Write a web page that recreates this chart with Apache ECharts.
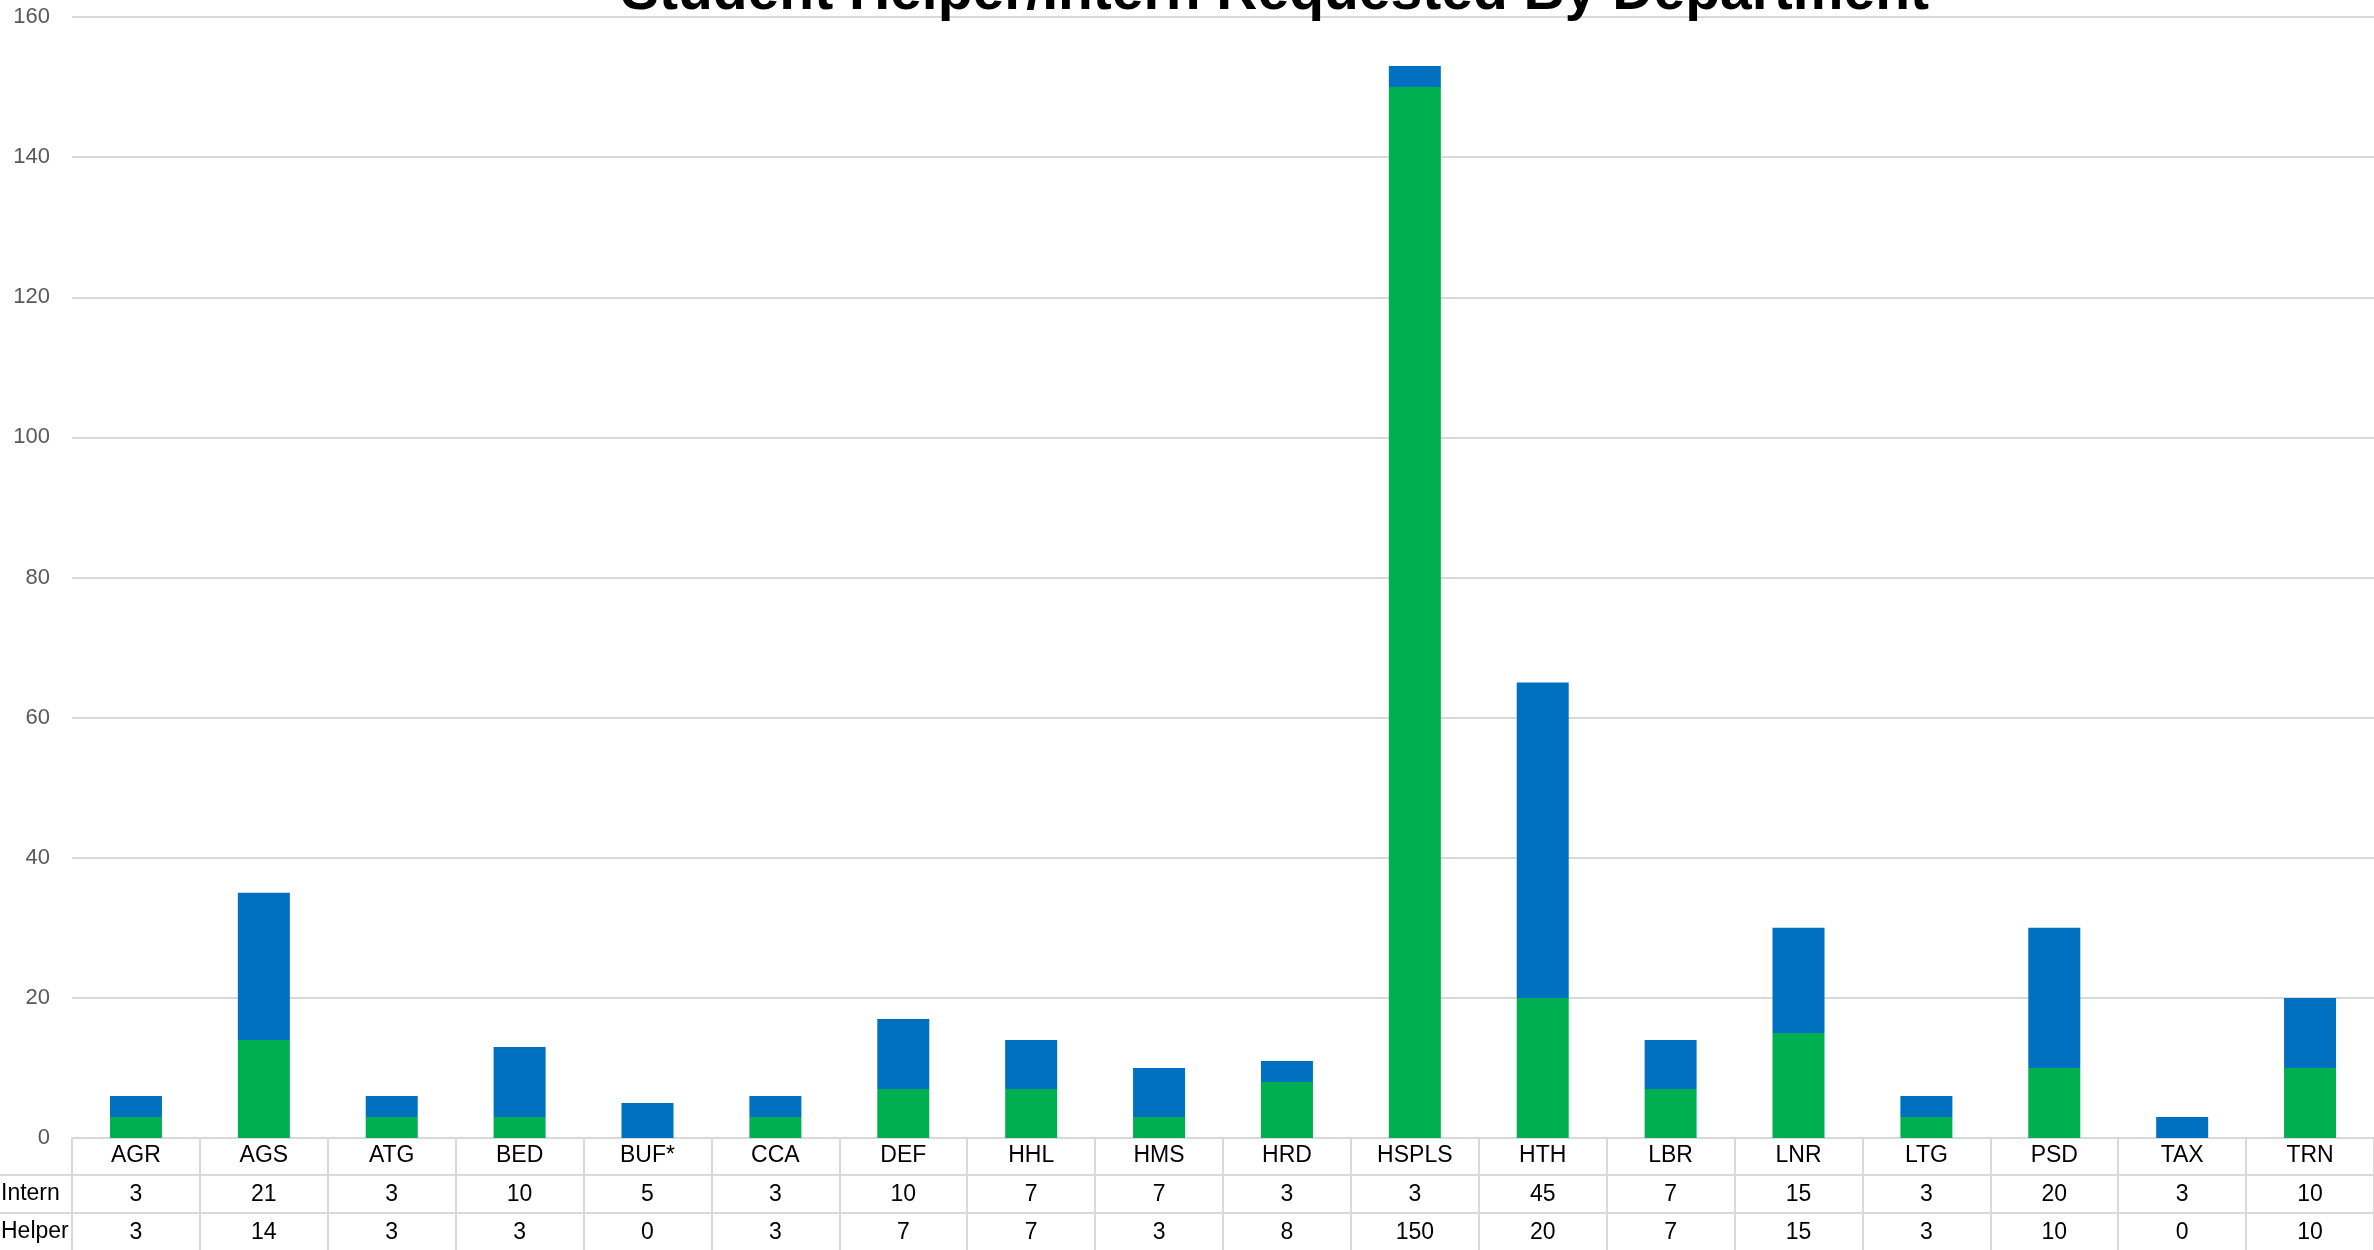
<!DOCTYPE html>
<html>
<head>
<meta charset="utf-8">
<script src="https://cdn.jsdelivr.net/npm/echarts@6/dist/echarts.min.js"></script>
<style>
  html, body { margin: 0; padding: 0; background: #fff; }
  #chart { width: 2374px; height: 1250px; }
</style>
</head>
<body>
<div id="chart"></div>
<script>
const departments = ["AGR", "AGS", "ATG", "BED", "BUF*", "CCA", "DEF", "HHL", "HMS", "HRD",
  "HSPLS", "HTH", "LBR", "LNR", "LTG", "PSD", "TAX", "TRN"];
const intern = [3, 21, 3, 10, 5, 3, 10, 7, 7, 3, 3, 45, 7, 15, 3, 20, 3, 10];
const helper = [3, 14, 3, 3, 0, 3, 7, 7, 3, 8, 150, 20, 7, 15, 3, 10, 0, 10];
const yTicks = { min: 0, max: 160, interval: 20 };

const FONT = "'Liberation Sans', sans-serif";
const GRID_COLOR = "#d9d9d9";

const chart = echarts.init(document.getElementById("chart"));

// one hidden-line category axis per table row
const tableRow = (values, margin) => ({
  type: "category",
  data: departments,
  position: "bottom",
  axisLine: { show: false },
  axisTick: { show: false },
  axisLabel: {
    margin,
    verticalAlign: "middle",
    fontFamily: FONT,
    fontSize: 23,
    color: "#000",
    formatter: (v, i) => String(values[i]),
  },
});

chart.setOption({
  animation: false,
  title: {
    text: "Student Helper/Intern Requested By Department",
    left: 1270,
    textAlign: "center",
    top: -40,
    textStyle: { fontFamily: FONT, fontSize: 57, fontWeight: "bold", color: "#000" },
  },
  grid: { left: 72, right: 0, top: 17, bottom: 112, containLabel: false },
  xAxis: [
    {
      type: "category",
      data: departments,
      position: "bottom",
      axisLine: { show: true, lineStyle: { color: GRID_COLOR, width: 2 } },
      axisTick: { show: true, length: 140, lineStyle: { color: GRID_COLOR, width: 2 } },
      axisLabel: {
        margin: 18,
        verticalAlign: "middle",
        fontFamily: FONT,
        fontSize: 23,
        color: "#000",
      },
    },
    tableRow(intern, 57),
    tableRow(helper, 95),
  ],
  yAxis: {
    type: "value",
    min: yTicks.min,
    max: yTicks.max,
    interval: yTicks.interval,
    axisLine: { show: false },
    axisTick: { show: false },
    axisLabel: { margin: 22, fontFamily: FONT, fontSize: 22, color: "#595959" },
    splitLine: { lineStyle: { color: GRID_COLOR, width: 2 } },
  },
  graphic: [
    { type: "line", shape: { x1: 0, y1: 1175, x2: 2374, y2: 1175 }, style: { stroke: GRID_COLOR, lineWidth: 2 } },
    { type: "line", shape: { x1: 0, y1: 1213, x2: 2374, y2: 1213 }, style: { stroke: GRID_COLOR, lineWidth: 2 } },
    { type: "text", style: { x: 1, y: 1194, verticalAlign: "middle", text: "Intern", font: "23px " + FONT, fill: "#000" } },
    { type: "text", style: { x: 1, y: 1232, verticalAlign: "middle", text: "Helper", font: "23px " + FONT, fill: "#000" } },
  ],
  series: [
    {
      name: "Helper",
      type: "bar",
      stack: "total",
      xAxisIndex: 0,
      barWidth: 52,
      data: helper,
      itemStyle: { color: "#00B050" },
    },
    {
      name: "Intern",
      type: "bar",
      stack: "total",
      xAxisIndex: 0,
      barWidth: 52,
      data: intern,
      itemStyle: { color: "#0070C0" },
    },
  ],
});
</script>
</body>
</html>
